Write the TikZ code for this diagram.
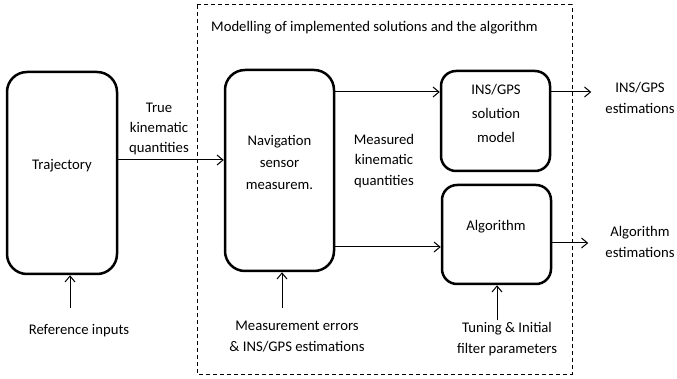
\documentclass[tikz,border=0pt]{standalone}
\usepackage{fontspec}
\setmainfont{Carlito}
\usetikzlibrary{arrows.meta,calc}
\begin{document}
\begin{tikzpicture}[x=1pt,y=-1pt,
  box/.style={draw,line width=2.5pt,rounded corners=#1,inner sep=0pt},
  box/.default=18pt,
  txt/.style={align=center,inner sep=0pt,font=\fontsize{14.7}{21}\selectfont},
  arr/.style={line width=1pt,-{Straight Barb[length=6pt,width=10pt]}},
  frame/.style={line width=1pt,dash pattern=on 4pt off 3pt}]
\useasboundingbox (0,0) rectangle (677,379);
% dashed frame
\draw[frame] (197,5) rectangle (572,374);
\node[txt,anchor=west] (title) at (211,28) {Modelling of implemented solutions and the algorithm};
% boxes
\node[box=20pt,minimum width=110pt,minimum height=202pt] (traj) at (62,173) {};
\node[box=20pt,minimum width=109pt,minimum height=201pt] (nav) at (279.5,170.5) {};
\node[box=15pt,minimum width=109pt,minimum height=100pt] (ins) at (495.5,121) {};
\node[box=15pt,minimum width=109pt,minimum height=99pt] (alg) at (496.5,234.5) {};
% box texts
\node[txt] (trajtxt) at (62,166) {Trajectory};
\node[txt,font=\fontsize{14.7}{22}\selectfont] (navtxt) at (279.5,162) {Navigation\\sensor\\measurem.};
\node[txt,font=\fontsize{14.7}{24}\selectfont] (instxt) at (496,113) {INS/GPS\\solution\\model};
\node[txt] (algtxt) at (496,227) {Algorithm};
% other texts
\node[txt,font=\fontsize{14.7}{20}\selectfont] (truetxt) at (159,129) {True\\kinematic\\quantities};
\node[txt,font=\fontsize{14.7}{20.5}\selectfont] (meastxt) at (384,161) {Measured\\kinematic\\quantities};
\node[txt] (reftxt) at (79,331) {Reference inputs};
\node[txt] (errtxt) at (297,337) {Measurement errors\\\& INS/GPS estimations};
\node[txt] (tuntxt) at (507,339) {Tuning \& Initial\\filter parameters};
\node[txt] (insout) at (640,98) {INS/GPS\\estimations};
\node[txt] (algout) at (640,242) {Algorithm\\estimations};
% connectors
\draw[arr] ([yshift=13pt]traj.east) -- ([yshift=10.5pt]nav.west);
\draw[arr] ([yshift=78.5pt]nav.east) -- ([yshift=29pt]ins.west);
\draw[arr] ([yshift=-76.5pt]nav.east) -- ([yshift=-12.5pt]alg.west);
\draw[arr] ([yshift=29pt]ins.east) -- ++(40,0);
\draw[arr] ([yshift=-8.5pt]alg.east) -- ++(36,0);
\draw[arr] ($(traj.south)+(8,33)$) -- ([xshift=8pt]traj.south);
\draw[arr] ($(nav.south)+(2.5,36)$) -- ([xshift=2.5pt]nav.south);
\draw[arr] ($(alg.south)+(0.5,35)$) -- ([xshift=0.5pt]alg.south);
\end{tikzpicture}
\end{document}
